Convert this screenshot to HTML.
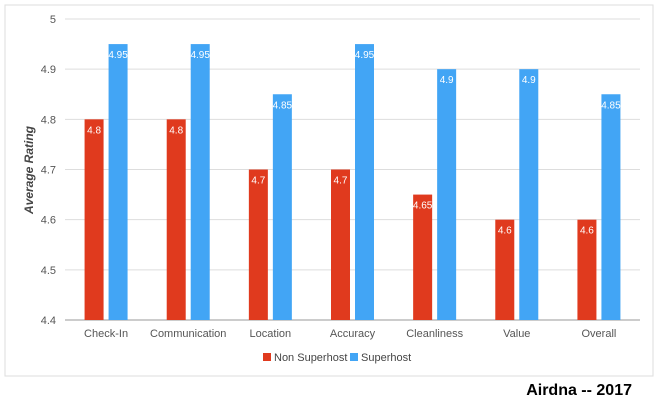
<!DOCTYPE html>
<html><head><meta charset="utf-8"><style>
body{margin:0;background:#fff;width:660px;height:404px;overflow:hidden;font-family:"Liberation Sans",sans-serif}
</style></head><body>
<svg width="660" height="404">
<rect x="5" y="5" width="648" height="371" fill="#fff" stroke="#ddd"/>
<g id="grid"></g><g id="bars"></g><g id="xl"></g>
<text transform="translate(33,170) rotate(-90)" text-anchor="middle" font-size="12" font-weight="bold" font-style="italic" fill="#444">Average Rating</text>
<g>
<rect x="263" y="353" width="8" height="8" fill="#e03a1e"/>
<text x="274" y="361" font-size="11" fill="#444">Non Superhost</text>
<rect x="350" y="353" width="8" height="8" fill="#42a5f5"/>
<text x="361" y="361" font-size="11" fill="#444">Superhost</text>
</g>
<text x="632" y="395" text-anchor="end" font-size="16" font-weight="bold" fill="#000">Airdna -- 2017</text>
</svg>
<script>
const categories=["Check-In","Communication","Location","Accuracy","Cleanliness","Value","Overall"];
const nonSuperhost=[4.8,4.8,4.7,4.7,4.65,4.6,4.6];
const superhost=[4.95,4.95,4.85,4.95,4.9,4.9,4.85];
const yTicks=[4.4,4.5,4.6,4.7,4.8,4.9,5];
const NS="http://www.w3.org/2000/svg";
const x0=65,x1=640,yTop=19,yBot=320,yMin=4.4,yMax=5;
const y=v=>yBot-(v-yMin)/(yMax-yMin)*(yBot-yTop);
const bw=(x1-x0)/categories.length;
function mk(t,a,p){const e=document.createElementNS(NS,t);for(const k in a)e.setAttribute(k,a[k]);p.appendChild(e);return e;}
const grid=document.getElementById('grid'),bars=document.getElementById('bars'),xl=document.getElementById('xl');
yTicks.forEach(v=>{
 const l=mk('line',{x1:x0,x2:x1,y1:y(v),y2:y(v),stroke:v===yMin?'#999':'#ddd'},grid);
 
 
 const t=mk('text',{x:56,y:y(v)+4,'text-anchor':'end','font-size':11,fill:'#555'},grid);
 t.textContent=String(v);
 
 
});
categories.forEach((c,i)=>{
 const cx=x0+bw*(i+0.5);
 [[nonSuperhost[i],'#e03a1e',cx-21.5,'bar-non-superhost'],[superhost[i],'#42a5f5',cx+2.5,'bar-superhost']].forEach(([v,col,bx,nm])=>{
  const r=mk('rect',{x:bx,y:y(v),width:19,height:yBot-y(v),fill:col},bars);
  
  
  const t=mk('text',{x:bx+9.5,y:y(v)+14,'text-anchor':'middle','font-size':10,fill:'#fff'},bars);
  t.textContent=String(v);
  
  
 });
 const t=mk('text',{x:cx,y:337,'text-anchor':'middle','font-size':11,fill:'#555'},xl);
 t.textContent=c;
 
 
});
</script>
</body></html>
